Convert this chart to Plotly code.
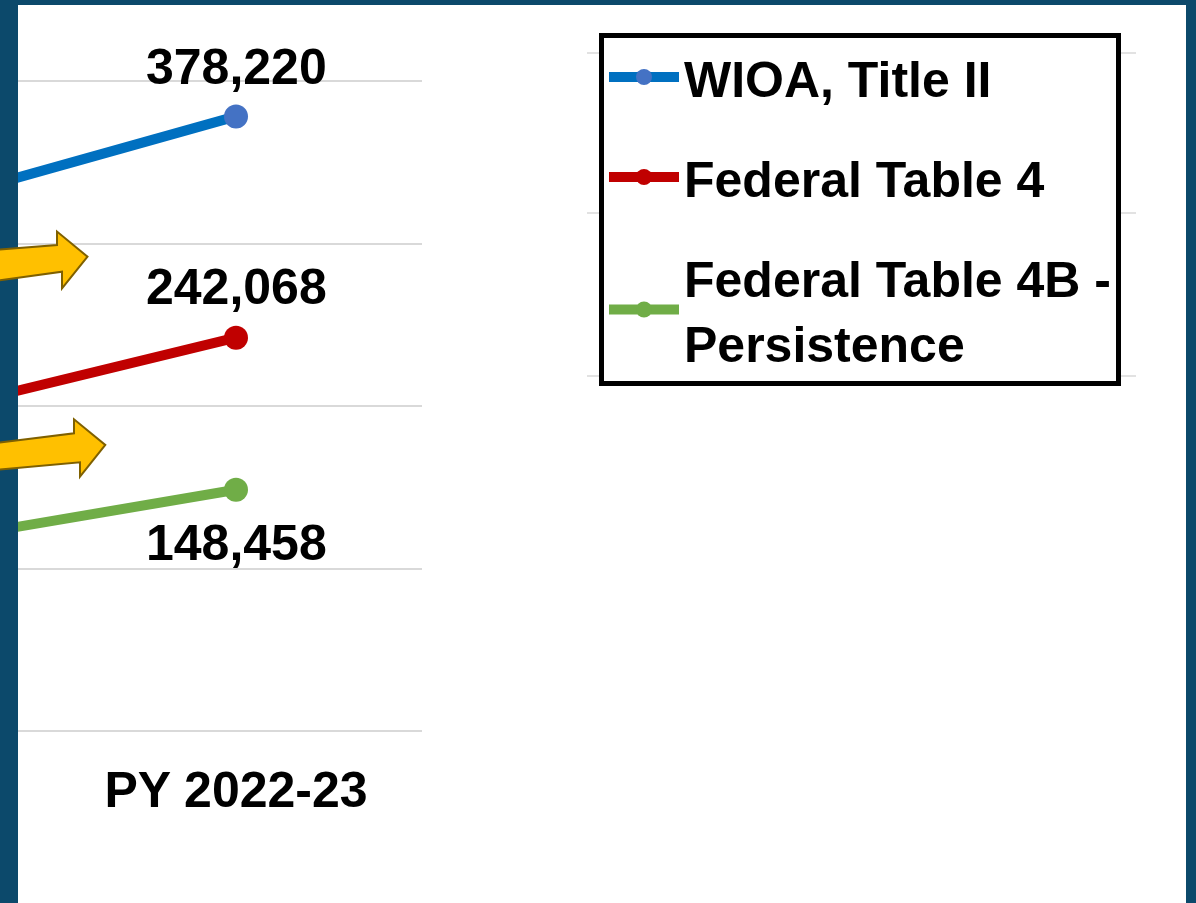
import plotly.graph_objects as go

W, H = 1196, 903

# ---- data ----
categories = ["PY 2021-22", "PY 2022-23"]
wioa_title2 = [314000, 378220]
fed_table4 = [186400, 242068]
fed_table4b = [109600, 148458]
series_names = ["WIOA, Title II", "Federal Table 4", "Federal Table 4B -<br>Persistence"]
line_colors = ["#0070C0", "#C00000", "#70AD47"]
marker_colors = ["#4472C4", "#C00000", "#70AD47"]
label_shift = [49, 51, -53]

FONT = "Liberation Sans, Arial, sans-serif"
BORDER = "#0C496B"


def px(x):
    return x / W


def py(y):
    return 1 - y / H


fig = go.Figure()
series = [wioa_title2, fed_table4, fed_table4b]
for i, vals in enumerate(series):
    fig.add_trace(go.Scatter(
        x=categories, y=vals, mode="lines+markers", name=series_names[i],
        legendgroup=f"g{i}",
        line=dict(color=line_colors[i], width=10),
        marker=dict(color=marker_colors[i], size=24),
        hoverinfo="skip",
    ))

annotations = []
for i, vals in enumerate(series):
    annotations.append(dict(
        x=categories[-1], y=vals[-1], xref="x", yref="y",
        text=f"{vals[-1]:,}", showarrow=False, yshift=label_shift[i],
        font=dict(family=FONT, size=50, color="black", weight="bold"),
    ))

shapes = []
# white canvas inside dark border
shapes.append(dict(type="rect", xref="paper", yref="paper", x0=px(18), x1=px(1186),
                   y0=py(5), y1=py(903), fillcolor="white", line=dict(width=0), layer="below"))
# gridlines of the neighbouring panel (behind legend)
for gy in [53, 213, 376]:
    shapes.append(dict(type="line", xref="paper", yref="paper", x0=px(587), x1=px(1136),
                       y0=py(gy), y1=py(gy), line=dict(color="#D9D9D9", width=1.5), layer="below"))


def arrow_path(pts):
    return "M" + " L".join(f"{px(x):.5f},{py(y):.5f}" for x, y in pts) + " Z"


arrow1 = [(-6, 250), (57, 245), (57, 231.5), (87.5, 256.7), (62, 288.3), (62, 271.7), (-6, 281)]
arrow2 = [(-6, 443.3), (74, 433.3), (74, 419.3), (105.3, 445), (80, 476.7), (80, 462.3), (-6, 470)]
for a in (arrow1, arrow2):
    shapes.append(dict(type="path", xref="paper", yref="paper", path=arrow_path(a),
                       fillcolor="#FFC000", line=dict(color="#7F6000", width=2), layer="above"))

ypad = 4000
ppu = 650 / 400000
fig.update_layout(
    width=W, height=H,
    margin=dict(l=0, r=0, t=0, b=0, autoexpand=False),
    paper_bgcolor=BORDER,
    plot_bgcolor="white",
    font=dict(family=FONT, color="black"),
    showlegend=True,
    legend=dict(
        x=px(599), y=py(33), xanchor="left", yanchor="top",
        bgcolor="white", bordercolor="black", borderwidth=5,
        font=dict(family=FONT, size=50, color="black", weight="bold"),
        itemwidth=70, tracegroupgap=32, traceorder="grouped",
    ),
    xaxis=dict(
        type="category", categoryorder="array", categoryarray=categories,
        domain=[px(18), px(422)], range=[1 - 218 / 372, 1.5],
        showgrid=False, zeroline=False, showline=False, ticks="",
        tickfont=dict(family=FONT, size=50, color="black", weight="bold"),
        ticklabelstandoff=int(round(24 - ypad * ppu)),
    ),
    yaxis=dict(
        domain=[py(731 + ypad * ppu), py(81 - ypad * ppu)], range=[-ypad, 400000 + ypad],
        tick0=0, dtick=100000,
        showgrid=True, gridcolor="#D9D9D9", gridwidth=1.5,
        zeroline=False, showline=False, showticklabels=False, ticks="",
    ),
    annotations=annotations,
    shapes=shapes,
)

fig.write_html("out.html", config={"displayModeBar": False},
               post_script="document.body.style.margin='0';document.body.style.overflow='hidden';")
